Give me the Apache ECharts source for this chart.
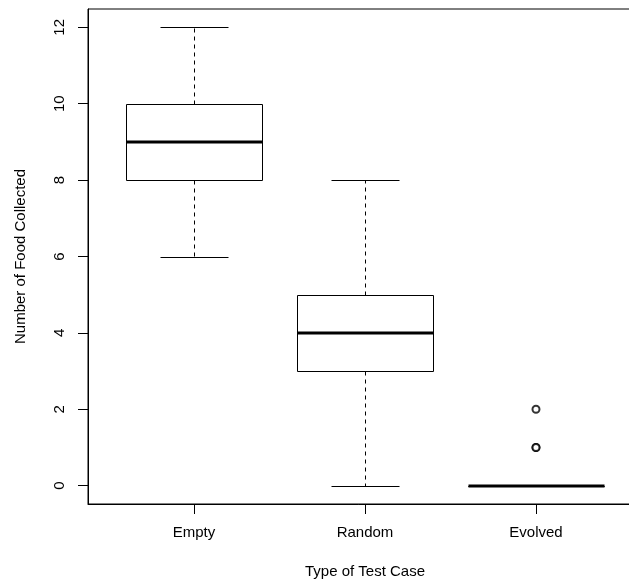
<!DOCTYPE html>
<html>
<head>
<meta charset="utf-8">
<script src="https://cdn.jsdelivr.net/npm/echarts@6/dist/echarts.min.js"></script>
<style>
html,body{margin:0;padding:0;background:#fff;}
#chart{width:629px;height:583px;}
</style>
</head>
<body>
<div id="chart"></div>
<script>
const categories = ['Empty', 'Random', 'Evolved'];
const whiskerLow = [6, 0, 0];
const q1 = [8, 3, 0];
const medians = [9, 4, 0];
const q3 = [10, 5, 0];
const whiskerHigh = [12, 8, 0];
const outlierCategory = ['Evolved', 'Evolved', 'Evolved'];
const outlierValues = [1, 1, 2];
const yTicks = [0, 2, 4, 6, 8, 10, 12];
const xTicks = [1, 2, 3];

const FONT = 'Liberation Sans, Arial, Helvetica, sans-serif';
const FS = 15;

const boxData = categories.map((c, i) => [i + 1, whiskerLow[i], q1[i], medians[i], q3[i], whiskerHigh[i]]);
const outlierData = outlierValues.map((v, i) => [categories.indexOf(outlierCategory[i]) + 1, v]);

function crisp(v) { return Math.round(v) + 0.5; }

function renderBox(params, api) {
  const x = api.value(0);
  const low = api.coord([x, api.value(1)]);
  const b1 = api.coord([x, api.value(2)]);
  const md = api.coord([x, api.value(3)]);
  const b3 = api.coord([x, api.value(4)]);
  const high = api.coord([x, api.value(5)]);
  const halfW = api.size([0.4, 0])[0];
  const capHalf = halfW / 2;
  const cx = crisp(md[0]);
  const solid = { stroke: '#000', lineWidth: 1, fill: null };
  const dashed = { stroke: '#000', lineWidth: 1, lineDash: [4, 4], fill: null };
  const left = crisp(md[0] - halfW), right = crisp(md[0] + halfW);
  const yq3 = crisp(b3[1]), yq1 = crisp(b1[1]);
  const yh = crisp(high[1]), yl = crisp(low[1]);
  return {
    type: 'group',
    children: [
      { type: 'line', shape: { x1: cx, y1: yq3, x2: cx, y2: yh }, style: dashed },
      { type: 'line', shape: { x1: cx, y1: yq1, x2: cx, y2: yl }, style: dashed },
      { type: 'line', shape: { x1: crisp(md[0] - capHalf), y1: yh, x2: crisp(md[0] + capHalf), y2: yh }, style: solid },
      { type: 'line', shape: { x1: crisp(md[0] - capHalf), y1: yl, x2: crisp(md[0] + capHalf), y2: yl }, style: solid },
      { type: 'polyline', shape: { points: [[left, yq3], [right, yq3], [right, yq1], [left, yq1], [left, yq3]] }, style: solid },
      { type: 'line', shape: { x1: left, y1: Math.round(md[1]), x2: right, y2: Math.round(md[1]) }, style: { stroke: '#000', lineWidth: 3 } }
    ]
  };
}

const chart = echarts.init(document.getElementById('chart'), null, { renderer: 'canvas' });
chart.setOption({
  animation: false,
  backgroundColor: '#fff',
  grid: { left: 88, top: 9, width: 554, height: 495, containLabel: false, outerBoundsMode: 'none',
    show: true, borderColor: '#000', borderWidth: 1, backgroundColor: 'transparent' },
  xAxis: {
    type: 'value', min: 0.38, max: 3.62,
    name: 'Type of Test Case', nameLocation: 'middle', nameGap: 60,
    nameTextStyle: { color: '#000', fontSize: FS, fontFamily: FONT },
    splitLine: { show: false },
    axisLine: { show: true, onZero: false, lineStyle: { color: '#000', width: 1 } },
    axisTick: { show: true, length: 10, customValues: xTicks, lineStyle: { color: '#000', width: 1 } },
    axisLabel: { customValues: xTicks, margin: 21, color: '#000', fontSize: FS, fontFamily: FONT,
      formatter: v => categories[Math.round(v) - 1] }
  },
  yAxis: {
    type: 'value', min: -0.48, max: 12.48,
    name: 'Number of Food Collected', nameLocation: 'middle', nameGap: 60, nameRotate: 90,
    nameTextStyle: { color: '#000', fontSize: FS, fontFamily: FONT },
    splitLine: { show: false },
    axisLine: { show: true, onZero: false, lineStyle: { color: '#000', width: 1 } },
    axisTick: { show: true, length: 10, customValues: yTicks, lineStyle: { color: '#000', width: 1 } },
    axisLabel: { customValues: yTicks, rotate: 90, margin: 21, color: '#000', fontSize: FS, fontFamily: FONT }
  },
  series: [
    { type: 'custom', renderItem: renderBox, data: boxData, encode: { x: 0, y: [1, 2, 3, 4, 5] }, z: 3, clip: false },
    { type: 'scatter', data: outlierData, symbol: 'emptyCircle', symbolSize: 7,
      itemStyle: { color: '#000', borderColor: '#000', borderWidth: 1.3 }, z: 4 }
  ]
});
</script>
</body>
</html>
